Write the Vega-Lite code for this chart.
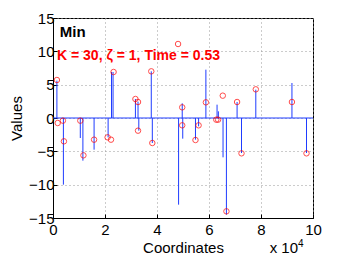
{
  "$schema": "https://vega.github.io/schema/vega-lite/v6.json",
  "width": 260,
  "height": 200,
  "autosize": {"type": "none"},
  "padding": {"left": 53, "top": 18, "right": 33, "bottom": 42},
  "background": "white",
  "config": {
    "font": "Liberation Sans",
    "view": {"stroke": "black", "strokeWidth": 1},
    "axis": {
      "labelFont": "Liberation Sans",
      "titleFont": "Liberation Sans",
      "labelFontSize": 15,
      "titleFontSize": 15,
      "titleFontWeight": "normal",
      "labelColor": "black",
      "titleColor": "black",
      "domainColor": "black",
      "tickColor": "black",
      "tickSize": -4,
      "labelOverlap": false,
      "labelFlush": false,
      "grid": true,
      "gridDash": [1, 3],
      "gridColor": "#999999",
      "gridOpacity": 1
    }
  },
  "datasets": {
    "stems": [
      {"x": 1500, "y": 5.6},
      {"x": 4000, "y": -10.0},
      {"x": 10500, "y": -3.0},
      {"x": 11500, "y": -6.4},
      {"x": 15800, "y": -4.75},
      {"x": 21200, "y": -2.9},
      {"x": 22500, "y": 6.9},
      {"x": 23100, "y": 6.9},
      {"x": 31700, "y": 2.85},
      {"x": 32700, "y": 2.45},
      {"x": 33000, "y": -1.9},
      {"x": 37800, "y": 7.0},
      {"x": 38200, "y": -3.75},
      {"x": 48300, "y": -13.0},
      {"x": 49700, "y": 2.2},
      {"x": 49900, "y": -3.1},
      {"x": 54800, "y": -3.25},
      {"x": 56000, "y": -1.25},
      {"x": 58800, "y": 7.25},
      {"x": 63100, "y": 2.0},
      {"x": 63600, "y": 1.0},
      {"x": 65400, "y": -5.9},
      {"x": 66700, "y": -14.5},
      {"x": 70800, "y": 2.4},
      {"x": 72500, "y": -5.25},
      {"x": 78000, "y": 4.25},
      {"x": 91900, "y": 5.25},
      {"x": 97500, "y": -5.25}
    ],
    "est": [
      {"x": 1500, "y": 5.7},
      {"x": 1800, "y": -0.75},
      {"x": 3800, "y": -0.4},
      {"x": 4200, "y": -3.5},
      {"x": 10500, "y": -0.4},
      {"x": 11700, "y": -5.6},
      {"x": 15800, "y": -3.25},
      {"x": 21000, "y": -2.9},
      {"x": 22300, "y": -3.25},
      {"x": 23300, "y": 6.9},
      {"x": 31700, "y": 2.85},
      {"x": 32700, "y": 2.4},
      {"x": 32700, "y": -1.9},
      {"x": 37800, "y": 7.0},
      {"x": 38200, "y": -3.75},
      {"x": 48100, "y": 11.1},
      {"x": 49700, "y": 1.6},
      {"x": 49700, "y": -1.1},
      {"x": 54800, "y": -3.3},
      {"x": 56000, "y": -1.1},
      {"x": 58800, "y": 2.35},
      {"x": 62800, "y": -0.25},
      {"x": 63500, "y": -0.25},
      {"x": 65300, "y": 3.35},
      {"x": 66700, "y": -14.0},
      {"x": 70800, "y": 2.4},
      {"x": 72500, "y": -5.3},
      {"x": 78000, "y": 4.3},
      {"x": 91900, "y": 2.4},
      {"x": 97500, "y": -5.3}
    ],
    "labels": [
      {"x": 2600, "y": 12.1, "t": "Min", "c": "black", "s": 15},
      {"x": 1540, "y": 8.74, "t": "K = 30, ζ = 1, Time = 0.53", "c": "red", "s": 14}
    ]
  },
  "layer": [
    {
      "data": {"name": "stems"},
      "mark": {"type": "rule", "color": "#1f3cff", "strokeWidth": 1},
      "encoding": {
        "x": {
          "field": "x", "type": "quantitative",
          "scale": {"domain": [0, 100000], "nice": false},
          "axis": {"orient": "bottom", "values": [0, 20000, 40000, 60000, 80000, 100000], "tickCount": 10, "labelExpr": "datum.value/10000", "title": "Coordinates", "titlePadding": 3, "labelPadding": 8, "labelOverlap": false}
        },
        "y": {
          "field": "y", "type": "quantitative",
          "scale": {"domain": [-15, 15], "nice": false},
          "axis": {"orient": "left", "values": [-15, -10, -5, 0, 5, 10, 15], "tickCount": 10, "title": "Values", "titlePadding": 4, "labelPadding": 3, "labelOverlap": false}
        },
        "y2": {"datum": 0}
      }
    },
    {
      "data": {"values": [{}]},
      "mark": {"type": "rule", "color": "#1f3cff", "strokeWidth": 1},
      "encoding": {"y": {"datum": 0, "type": "quantitative"}}
    },
    {
      "data": {"name": "est"},
      "mark": {"type": "point", "shape": "circle", "filled": false, "color": "red", "size": 30, "strokeWidth": 1},
      "encoding": {
        "x": {"field": "x", "type": "quantitative"},
        "y": {"field": "y", "type": "quantitative"}
      }
    },
    {
      "data": {"name": "labels"},
      "mark": {"type": "text", "align": "left", "baseline": "alphabetic", "fontWeight": "bold", "font": "Liberation Sans"},
      "encoding": {
        "x": {"field": "x", "type": "quantitative"},
        "y": {"field": "y", "type": "quantitative"},
        "text": {"field": "t"},
        "size": {"field": "s", "type": "quantitative", "scale": null},
        "color": {"field": "c", "type": "nominal", "scale": null}
      }
    },
    {
      "data": {"values": [{"x": 100000, "y": -15, "t": "x 10"}]},
      "mark": {"type": "text", "align": "right", "baseline": "alphabetic", "dx": -15, "dy": 35, "fontSize": 15, "font": "Liberation Sans"},
      "encoding": {
        "x": {"field": "x", "type": "quantitative"},
        "y": {"field": "y", "type": "quantitative"},
        "text": {"field": "t"}
      }
    },
    {
      "data": {"values": [{"x": 100000, "y": -15, "t": "4"}]},
      "mark": {"type": "text", "align": "left", "baseline": "alphabetic", "dx": -15, "dy": 29, "fontSize": 10, "font": "Liberation Sans"},
      "encoding": {
        "x": {"field": "x", "type": "quantitative"},
        "y": {"field": "y", "type": "quantitative"},
        "text": {"field": "t"}
      }
    }
  ]
}
